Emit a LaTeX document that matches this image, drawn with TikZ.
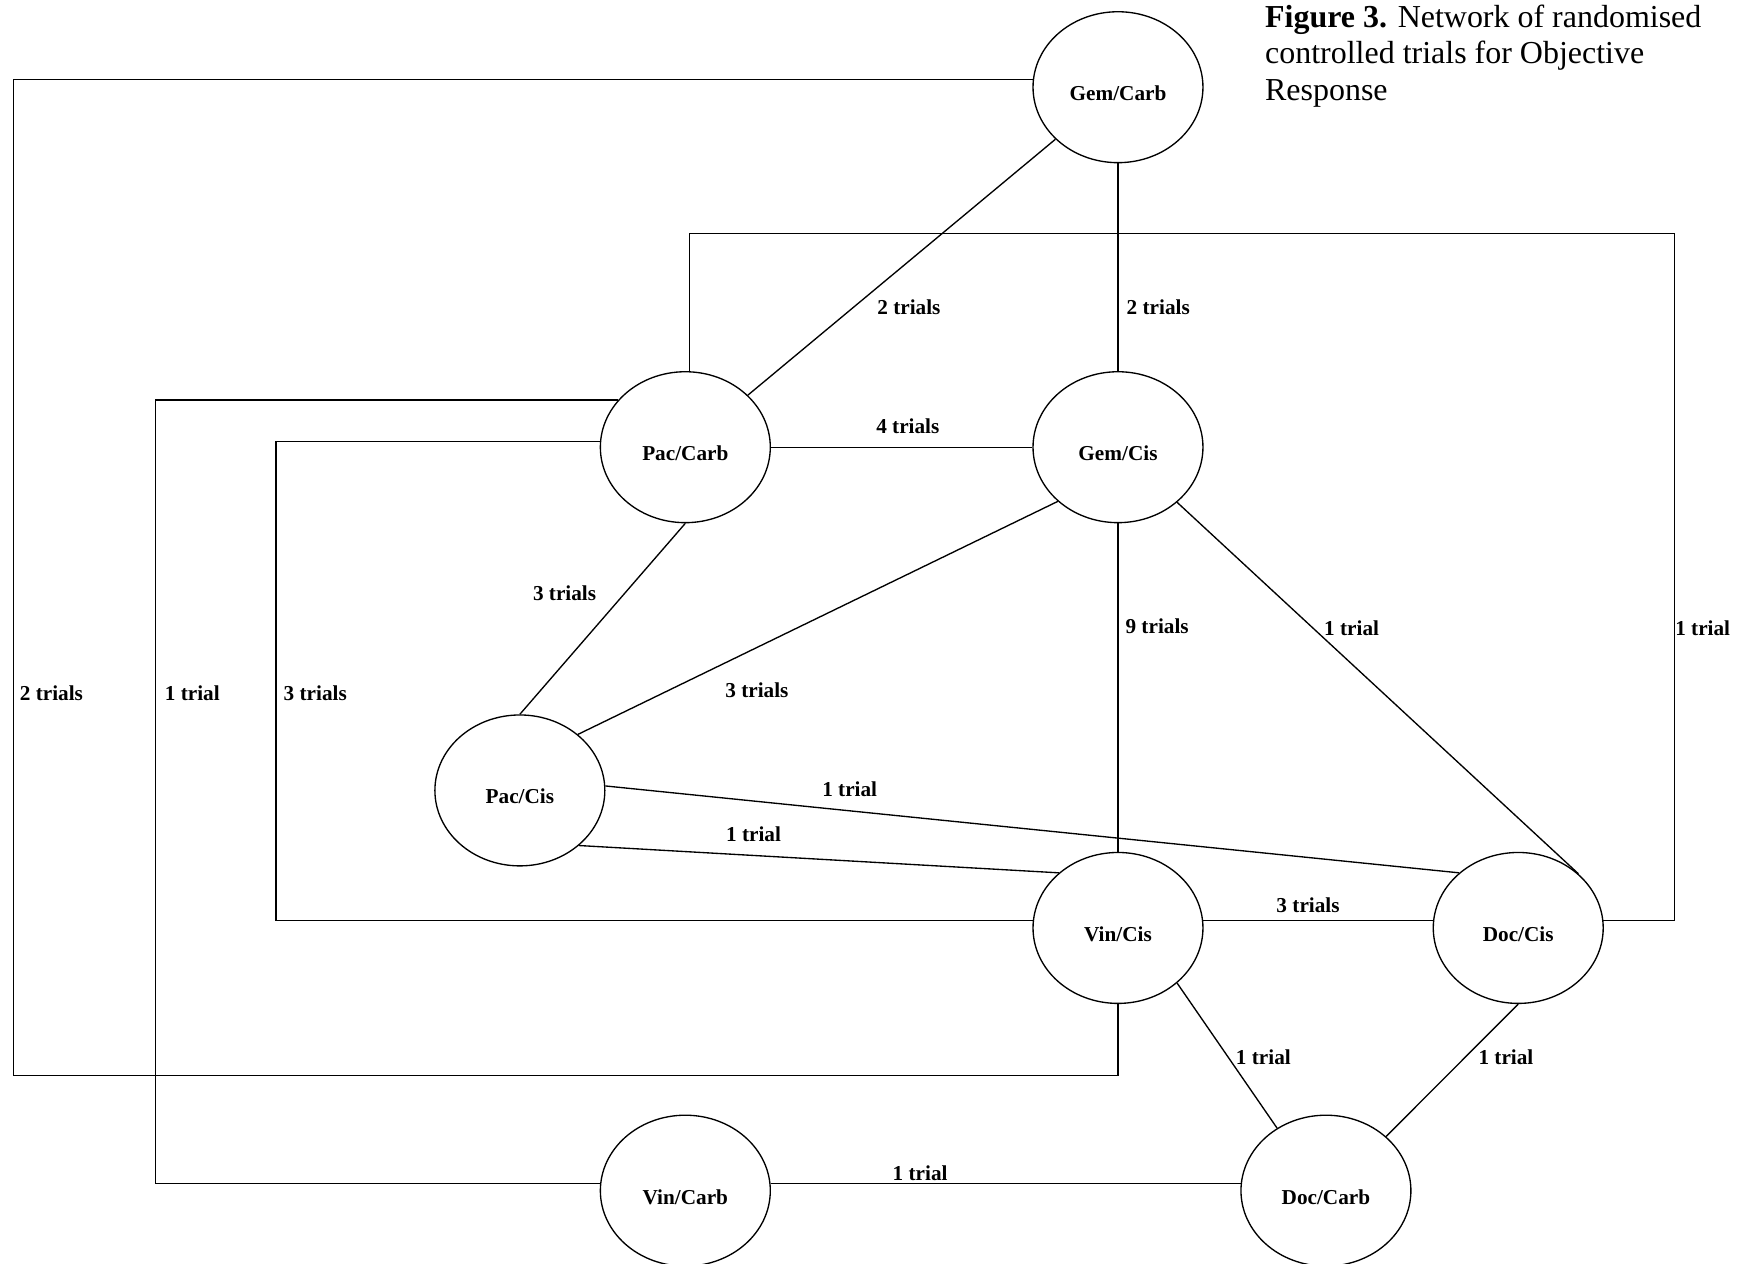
\documentclass[tikz,border=0pt]{standalone}
\usepackage{fontspec}
\setmainfont{Liberation Serif}
\usetikzlibrary{shapes.geometric}
\begin{document}
\begin{tikzpicture}[x=0.5pt,y=-0.5pt,line width=0.6pt,
  trt/.style={ellipse, draw, minimum width=76pt, minimum height=67.5pt, inner sep=0pt,
    font=\fontsize{9.5}{11}\selectfont\bfseries, text height=12pt, text depth=0pt},
  lbl/.style={inner sep=0pt, font=\fontsize{9.5}{11}\selectfont\bfseries}]
\useasboundingbox (0,0) rectangle (1568,1130);
\clip (0,0) rectangle (1568,1130);
% nodes
\node[trt] (gc)  at (1000,78)   {Gem/Carb};
\node[trt] (pcb) at (613,400)   {Pac/Carb};
\node[trt] (gcs) at (1000,400)  {Gem/Cis};
\node[trt] (pcs) at (465,707)   {Pac/Cis};
\node[trt] (vcs) at (1000,830)  {Vin/Cis};
\node[trt] (dcs) at (1358,830)  {Doc/Cis};
\node[trt] (vcb) at (613,1065)  {Vin/Carb};
\node[trt] (dcb) at (1186,1065) {Doc/Carb};
% caption
\node[anchor=north west, inner sep=0pt, align=left, font=\fontsize{14.3}{16.25}\selectfont] (cap) at (1131,4)
  {\textbf{Figure 3.} Network of randomised\\controlled trials for Objective\\Response};
% routing coordinates
\coordinate (colA) at (12,0);
\coordinate (colB) at (139,0);
\coordinate (colC) at (247,0);
\coordinate (colD) at (1498,0);
\coordinate (rowT) at (0,209);
\coordinate (rowB) at (0,962);
% straight connectors
\draw (gc) -- (gcs);
\draw (gc) -- (pcb);
\draw (pcb) -- (gcs);
\draw (pcb.south) -- (pcs.north);
\draw (gcs.222) -- (pcs.44);
\draw (gcs) -- (vcs);
\draw (gcs.317) -- (dcs.42);
\draw (pcs.3) -- (dcs.137);
\draw (pcs.317) -- (vcs.137);
\draw (vcs.5) -- (dcs.175);
\draw (vcs.317) -- (dcb.128);
\draw (dcs.south) -- (dcb.42);
\draw (vcb.5) -- (dcb.175);
% routed connectors
\draw (gc.175) -- (gc.175 -| colA) -- (colA |- rowB) -- (vcs.south |- rowB) -- (vcs.south);
\draw (pcb.87) -- (pcb.87 |- rowT) -- (colD |- rowT) -- (colD |- dcs.5) -- (dcs.5);
\draw (pcb.145) -- (pcb.145 -| colB) -- (colB |- vcb.175) -- (vcb.175);
\draw (pcb.176) -- (pcb.176 -| colC) -- (colC |- vcs.175) -- (vcs.175);
% labels
\node[lbl] (l1)  at (1036,275) {2 trials};
\node[lbl] (l2)  at (813,275)  {2 trials};
\node[lbl] (l3)  at (46,620)   {2 trials};
\node[lbl] (l4)  at (1523,562) {1 trial};
\node[lbl] (l5)  at (172,620)  {1 trial};
\node[lbl] (l6)  at (282,620)  {3 trials};
\node[lbl] (l7)  at (812,381)  {4 trials};
\node[lbl] (l8)  at (505,531)  {3 trials};
\node[lbl] (l9)  at (677,617)  {3 trials};
\node[lbl] (l10) at (1035,560) {9 trials};
\node[lbl] (l11) at (1209,562) {1 trial};
\node[lbl] (l12) at (760,706)  {1 trial};
\node[lbl] (l13) at (674,746)  {1 trial};
\node[lbl] (l14) at (1170,810) {3 trials};
\node[lbl] (l15) at (1130,946) {1 trial};
\node[lbl] (l16) at (1347,946) {1 trial};
\node[lbl] (l17) at (823,1049) {1 trial};
\end{tikzpicture}
\end{document}
